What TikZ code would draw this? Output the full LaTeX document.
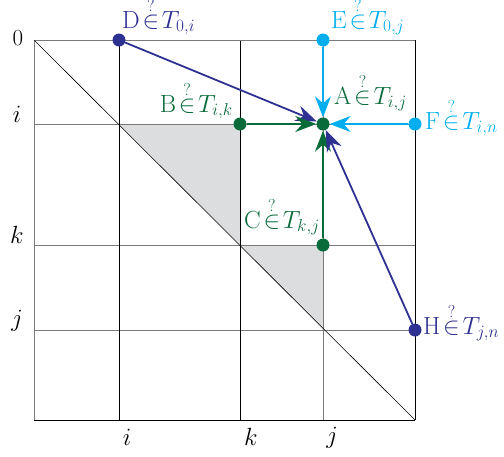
\documentclass[tikz,border=0pt]{standalone}
\usepackage{amsmath}
\usetikzlibrary{arrows.meta}
\definecolor{navyc}{HTML}{2E3192}
\definecolor{cyanc}{HTML}{00AEEF}
\definecolor{greenc}{HTML}{0A6B3A}
\definecolor{fillc}{HTML}{DCDDDF}
\definecolor{gridc}{HTML}{7A7A7A}
\newcommand{\qin}{\mkern2mu{\overset{\raisebox{-3.5pt}{$\scriptstyle ?$}}{\in}}\mkern2mu}
\begin{document}
\begin{tikzpicture}[x=1pt,y=-1pt,
  font=\fontsize{23}{27}\selectfont,
  dot/.style={circle,inner sep=0pt,minimum size=13pt},
  lab/.style={inner sep=0pt},
  arr/.style={line width=1.8pt,-{Stealth[length=21pt,width=16pt,inset=7pt]}},
  gline/.style={gridc,line width=1pt},
  bline/.style={black,line width=0.7pt}]
\useasboundingbox (0,0) rectangle (504,456);
% shaded triangles
\fill[fillc] (119,124) -- (240,124) -- (240,245) -- cycle;
\fill[fillc] (240,245) -- (323,245) -- (323,330) -- cycle;
% grid
\draw[gline] (34,124) -- (415,124);
\draw[gline] (34,245) -- (415,245);
\draw[gline] (34,330) -- (415,330);
\draw[bline] (119,40) -- (119,420);
\draw[bline] (240,40) -- (240,420);
\draw[gline] (323,40) -- (323,420);
\draw[gline] (34,40) -- (34,420);
\draw[gline] (34,40) -- (415,40);
\draw[bline] (415,40) -- (415,420);
\draw[bline] (34,420) -- (415,420);
\draw[black,line width=0.6pt] (34,40) -- (415,420);
% dots
\node[dot,fill=greenc] (A) at (323,124) {};
\node[dot,fill=greenc] (B) at (240,124) {};
\node[dot,fill=greenc] (C) at (323,245) {};
\node[dot,fill=navyc] (D) at (119,40) {};
\node[dot,fill=cyanc] (E) at (323,40) {};
\node[dot,fill=cyanc] (F) at (415,124) {};
\node[dot,fill=navyc] (H) at (415,330) {};
% arrows
\draw[arr,navyc] (D) -- (A);
\draw[arr,cyanc] (E) -- (A);
\draw[arr,cyanc] (F) -- (A);
\draw[arr,greenc] (B) -- (A);
\draw[arr,greenc] (C) -- (A);
\draw[arr,navyc] (H) -- (A);
% labels
\node[lab,navyc,anchor=base west] (Dl) at (122,28) {$\mathrm{D}\qin T_{0,i}$};
\node[lab,cyanc,anchor=base west] (El) at (331,28) {$\mathrm{E}\qin T_{0,j}$};
\node[lab,greenc,anchor=base west] (Al) at (334,104) {$\mathrm{A}\qin T_{i,j}$};
\node[lab,greenc,anchor=base east] (Bl) at (233,112) {$\mathrm{B}\qin T_{i,k}$};
\node[lab,greenc,anchor=base east] (Cl) at (320,228) {$\mathrm{C}\qin T_{k,j}$};
\node[lab,cyanc,anchor=base west] (Fl) at (425,129) {$\mathrm{F}\qin T_{i,n}$};
\node[lab,navyc,anchor=base west] (Hl) at (423,334) {$\mathrm{H}\qin T_{j,n}$};
% axis labels
\node[lab,anchor=base] (l0) at (18,45) {0};
\node[lab,anchor=base] (li) at (17,122) {$i$};
\node[lab,anchor=base] (lk) at (17,243) {$k$};
\node[lab,anchor=base] (lj) at (17,326) {$j$};
\node[lab,anchor=base] (bi) at (127,445) {$i$};
\node[lab,anchor=base] (bk) at (251,445) {$k$};
\node[lab,anchor=base] (bj) at (332,443) {$j$};
\end{tikzpicture}
\end{document}
